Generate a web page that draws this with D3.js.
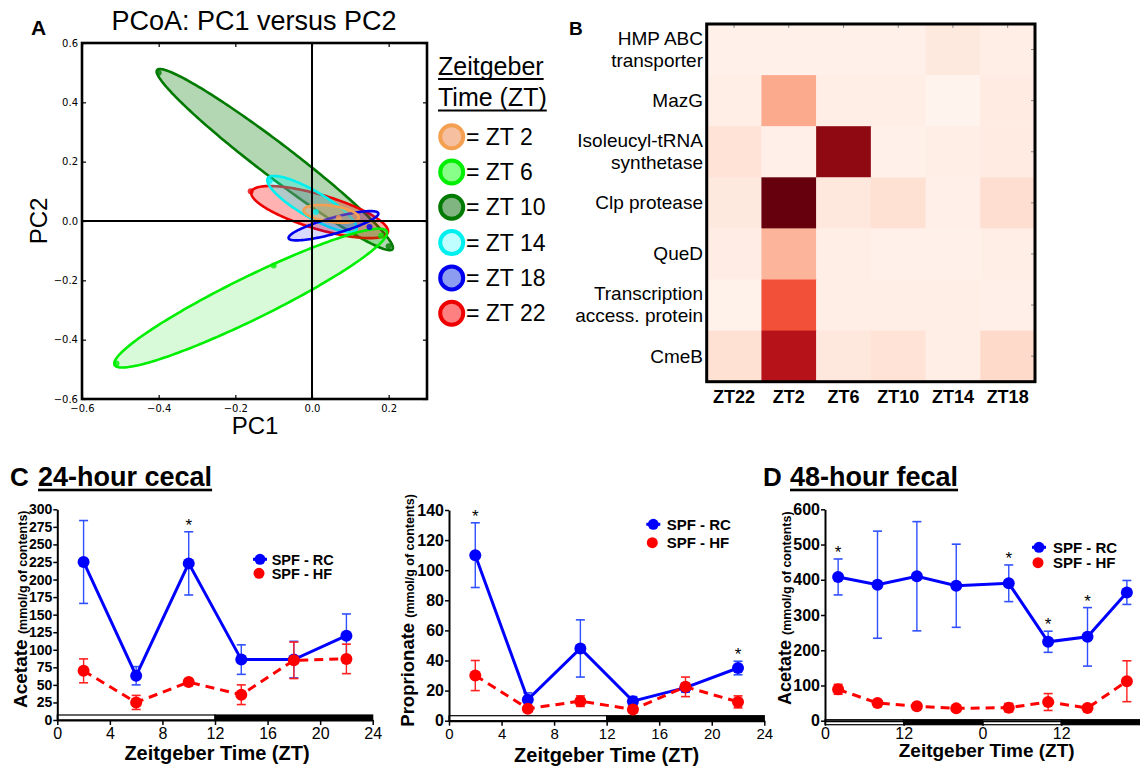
<!DOCTYPE html>
<html><head><meta charset="utf-8">
<script src="https://cdn.jsdelivr.net/npm/d3@7"></script>
<style>
body{margin:0;background:#fff}
svg{display:block}
text{font-family:"Liberation Sans",Arial,sans-serif;fill:#000}
</style></head>
<body><svg id="c" width="1140" height="771"></svg>
<script>
// ================= DATA =================
// Panel A (PCoA)
const ztGroups = ["ZT 2","ZT 6","ZT 10","ZT 14","ZT 18","ZT 22"];
const ellipseCenter = [[0.050,0.024],[-0.160,-0.260],[-0.097,0.207],[0.000,0.057],[0.056,-0.016],[0.020,0.030]];
const ellipseMajor  = [[0.072,-0.013],[0.355,0.225],[0.307,-0.302],[0.1155,-0.087],[0.117,0.042],[0.178,-0.0685]];
const ellipseMinor  = [[0.003,0.027],[0.024,-0.064],[0.026,0.045],[0.017,0.038],[0.0056,-0.026],[0.0133,0.055]];
const pcoaPointX = [-0.40,0.20,-0.51,-0.10,0.18,-0.11,0.01,-0.16,0.15,0.07];
const pcoaPointY = [0.50,-0.085,-0.48,-0.15,-0.05,0.135,0.03,0.10,-0.02,0.01];
const pcoaPointGroup = [2,2,1,1,1,3,3,5,4,0];
const pcoaXTicks = [-0.6,-0.4,-0.2,0.0,0.2];
const pcoaYTicks = [-0.6,-0.4,-0.2,0.0,0.2,0.4,0.6];

// Panel B (heatmap)
const heatRows = [["HMP ABC","transporter"],["MazG"],["Isoleucyl-tRNA","synthetase"],["Clp protease"],["QueD"],["Transcription","access. protein"],["CmeB"]];
const heatCols = ["ZT22","ZT2","ZT6","ZT10","ZT14","ZT18"];
const heatValues = [
  [0.03,0.03,0.03,0.03,0.07,0.04],
  [0.04,0.30,0.04,0.04,0.01,0.06],
  [0.10,0.035,0.92,0.03,0.04,0.06],
  [0.07,1.00,0.08,0.11,0.035,0.12],
  [0.05,0.27,0.04,0.025,0.03,0.04],
  [0.02,0.57,0.04,0.04,0.04,0.035],
  [0.11,0.82,0.08,0.10,0.04,0.14]
];

// Panel C left: 24-hour cecal acetate
const cLeftX = [2,6,10,14,18,22];
const cLeftRC = [225,63,223,86,86,120];
const cLeftRCErr = [59,13,45,21,26,31];
const cLeftHF = [70,25,54,36,85,87];
const cLeftHFErr = [17,10,2,14,26,21];
const cLeftStars = [10];
const cLeftYTicks = [0,25,50,75,100,125,150,175,200,225,250,275,300];
const cLeftXTicks = [0,4,8,12,16,20,24];
const cLeftXLabels = ["0","4","8","12","16","20","24"];

// Panel C middle: propionate
const cMidX = [2,6,10,14,18,22];
const cMidRC = [110,14,48,13,22,35];
const cMidRCErr = [21.5,4.5,19,3,3,4.5];
const cMidHF = [30,8,13,7.5,22.5,12.5];
const cMidHFErr = [10,2,3.5,2,6.5,4];
const cMidStars = [2,22];
const cMidYTicks = [0,20,40,60,80,100,120,140];
const cMidXTicks = [0,4,8,12,16,20,24];
const cMidXLabels = ["0","4","8","12","16","20","24"];

// Panel D: 48-hour fecal acetate
const dX = [2,8,14,20,28,34,40,46];
const dRC = [408,386,410,383,390,224,238,364];
const dRCErr = [51,152,155,118,52,30,83,34];
const dHF = [89,50,41,35,37,53,36,112];
const dHFErr = [14,4,4,3,12,24,3,58];
const dStars = [2,28,34,40];
const dYTicks = [0,100,200,300,400,500,600];
const dXTicks = [0,12,24,36];
const dXLabels = ["0","12","0","12"];

const seriesNames = ["SPF - RC","SPF - HF"];

// ================= STYLES =================
const ztStroke = ["#f4a052","#00ee00","#007a00","#00f0f0","#0000ee","#ee0000"];
const ztFill   = ["#f4a052","#00dd00","#007a00","#00ffff","#0000ff","#ff0000"];
const ztFillOp = [0.35,0.15,0.3,0.3,0.15,0.3];
const ztLegendFill = ["#f6c0a0","#88ff88","#80b480","#c0ffff","#8c9cf0","#ff8080"];
const ellipseOrder = [2,5,3,4,0,1];

const svg = d3.select("#c");

// ================= PANEL A =================
(function(){
  const x = d3.scaleLinear().domain([-0.6,0.3]).range([82,427]);
  const y = d3.scaleLinear().domain([-0.6,0.6]).range([399,43]);
  const g = svg.append("g");
  const tt = d3.range(0, 2*Math.PI+0.001, Math.PI/120);
  const line = d3.line().x(d=>x(d[0])).y(d=>y(d[1]));
  ellipseOrder.forEach(i=>{
    const c = ellipseCenter[i], u = ellipseMajor[i], v = ellipseMinor[i];
    const pts = tt.map(t=>[c[0]+Math.cos(t)*u[0]+Math.sin(t)*v[0], c[1]+Math.cos(t)*u[1]+Math.sin(t)*v[1]]);
    g.append("path").attr("d", line(pts)+"Z")
      .attr("fill", ztFill[i]).attr("fill-opacity", ztFillOp[i])
      .attr("stroke", ztStroke[i]).attr("stroke-width", 2.6);
  });
  g.selectAll("circle.pt").data(pcoaPointX).join("circle")
    .attr("cx",(d)=>x(d)).attr("cy",(d,i)=>y(pcoaPointY[i])).attr("r",3)
    .attr("fill",(d,i)=>ztStroke[pcoaPointGroup[i]]).attr("opacity",0.8);
  // zero lines
  g.append("line").attr("x1",x(0)).attr("x2",x(0)).attr("y1",43).attr("y2",399).attr("stroke","#000").attr("stroke-width",2);
  g.append("line").attr("x1",82).attr("x2",427).attr("y1",y(0)).attr("y2",y(0)).attr("stroke","#000").attr("stroke-width",2);
  const fmt = d3.format(".1f");
  const ax = (sel)=>{sel.select(".domain").remove(); sel.selectAll("text").style("font-family","DejaVu Sans").style("font-size","10px"); sel.selectAll("line").attr("stroke","#000").attr("stroke-width",1.2);};
  g.append("g").attr("transform","translate(0,399)").call(d3.axisBottom(x).tickValues(pcoaXTicks).tickSize(-4).tickPadding(6).tickFormat(fmt)).call(ax);
  g.append("g").attr("transform","translate(82,0)").call(d3.axisLeft(y).tickValues(pcoaYTicks).tickSize(-4).tickPadding(4).tickFormat(fmt)).call(ax);
  g.append("g").attr("transform","translate(0,43)").call(d3.axisTop(x).tickValues(pcoaXTicks).tickSize(-4).tickFormat("")).call(ax);
  g.append("g").attr("transform","translate(427,0)").call(d3.axisRight(y).tickValues(pcoaYTicks).tickSize(-4).tickFormat("")).call(ax);
  g.append("rect").attr("x",82).attr("y",43).attr("width",345).attr("height",356).attr("fill","none").attr("stroke","#000").attr("stroke-width",2.6);
  svg.append("text").attr("x",31).attr("y",35).style("font-weight","bold").style("font-size","21px").text("A");
  svg.append("text").attr("x",254).attr("y",30).attr("text-anchor","middle").style("font-size","27px").text("PCoA: PC1 versus PC2");
  svg.append("text").attr("x",255).attr("y",434).attr("text-anchor","middle").style("font-size","24px").text("PC1");
  svg.append("text").attr("transform","translate(47,221) rotate(-90)").attr("text-anchor","middle").style("font-size","24px").text("PC2");
  // legend
  const lg = svg.append("g");
  const t1 = lg.append("text").attr("x",438).attr("y",75).style("font-size","25px").text("Zeitgeber");
  const t2 = lg.append("text").attr("x",438).attr("y",106).style("font-size","25px").text("Time (ZT)");
  [[t1,79],[t2,110.5]].forEach(([t,yy])=>{
    const w = t.node().getComputedTextLength();
    lg.append("rect").attr("x",438).attr("y",yy-1).attr("width",w).attr("height",2).attr("fill","#000");
  });
  ztGroups.forEach((name,i)=>{
    const cy = 136.7 + i*35.3;
    lg.append("circle").attr("cx",451.7).attr("cy",cy).attr("r",11.5).attr("fill",ztLegendFill[i]).attr("stroke",ztStroke[i]).attr("stroke-width",4);
    lg.append("text").attr("x",466).attr("y",cy+8).style("font-size","23px").text("= "+name);
  });
})();

// ================= PANEL B =================
(function(){
  const x = d3.scaleBand().domain(heatCols).range([706.7,1035]);
  const y = d3.scaleBand().domain(heatRows.map((r,i)=>i)).range([24,381.7]);
  const color = d3.scaleSequential(d3.interpolateReds).domain([0,1]);
  const g = svg.append("g");
  heatValues.forEach((row,ri)=>{
    row.forEach((v,ci)=>{
      g.append("rect").attr("x",x(heatCols[ci])).attr("y",y(ri)).attr("width",x.bandwidth()+0.5).attr("height",y.bandwidth()+0.5).attr("fill",color(v));
    });
  });
  heatRows.forEach((r,ri)=>{
    g.append("line").attr("x1",1035).attr("x2",1031).attr("y1",y(ri)+y.bandwidth()/2).attr("y2",y(ri)+y.bandwidth()/2).attr("stroke","#888").attr("stroke-width",1);
  });
  heatCols.forEach(c=>{
    g.append("line").attr("x1",x(c)+x.bandwidth()/2).attr("x2",x(c)+x.bandwidth()/2).attr("y1",24).attr("y2",28).attr("stroke","#888").attr("stroke-width",1);
  });
  g.append("rect").attr("x",706.7).attr("y",24).attr("width",328.3).attr("height",357.7).attr("fill","none").attr("stroke","#000").attr("stroke-width",3);
  heatRows.forEach((lines,ri)=>{
    const cy = y(ri)+y.bandwidth()/2;
    if(lines.length===1){
      g.append("text").attr("x",703).attr("y",cy+6.5).attr("text-anchor","end").style("font-size","19px").text(lines[0]);
    } else {
      g.append("text").attr("x",703).attr("y",cy-5).attr("text-anchor","end").style("font-size","19px").text(lines[0]);
      g.append("text").attr("x",703).attr("y",cy+17).attr("text-anchor","end").style("font-size","19px").text(lines[1]);
    }
  });
  heatCols.forEach(c=>{
    g.append("text").attr("x",x(c)+x.bandwidth()/2).attr("y",403).attr("text-anchor","middle").style("font-weight","bold").style("font-size","18px").text(c);
  });
  svg.append("text").attr("x",569).attr("y",35).style("font-weight","bold").style("font-size","19px").text("B");
})();

// ================= LINE CHARTS =================
function lineChart(o){
  const x = d3.scaleLinear().domain(o.xDomain).range(o.xRange);
  const y = d3.scaleLinear().domain(o.yDomain).range(o.yRange);
  const g = svg.append("g");
  const y0 = y(0);
  for(let k=0;k<o.barSegments;k++){
    const a = o.xDomain[0] + k*12, b = a+12;
    g.append("rect").attr("x",x(a)).attr("y",y0-5+o.barShift).attr("width",x(Math.min(b,o.xDomain[1]))-x(a)).attr("height",5)
      .attr("fill", k%2===0 ? "#fff" : "#000").attr("stroke","#000").attr("stroke-width",1.2);
  }
  const xa = g.append("g").attr("transform",`translate(0,${y0})`)
    .call(d3.axisBottom(x).tickValues(o.xTicks).tickSize(5).tickSizeOuter(0).tickPadding(o.xPad).tickFormat((d,i)=>o.xLabels[i]));
  xa.select(".domain").attr("stroke-width",2);
  xa.selectAll("line").attr("stroke-width",1.5);
  xa.selectAll("text").style("font-size",o.xFont+"px").style("font-family","Liberation Sans, Arial");
  const ya = g.append("g").attr("transform",`translate(${o.xRange[0]},0)`)
    .call(d3.axisLeft(y).tickValues(o.yTicks).tickSize(4).tickSizeOuter(0).tickPadding(1));
  ya.select(".domain").attr("stroke-width",2);
  ya.selectAll("line").attr("stroke-width",1.5);
  ya.selectAll("text").style("font-size",o.yFont+"px").style("font-weight","bold").style("font-family","Liberation Sans, Arial");

  const series = [
    {v:o.rc, e:o.rcErr, color:"#0000ff", err:"#3050ff", dash:null},
    {v:o.hf, e:o.hfErr, color:"#ff0000", err:"#ff2020", dash:"9,6"}
  ];
  series.forEach(s=>{
    o.xs.forEach((xv,i)=>{
      const px = x(xv), t = y(s.v[i]+s.e[i]), b = y(Math.max(0,s.v[i]-s.e[i]));
      g.append("line").attr("x1",px).attr("x2",px).attr("y1",t).attr("y2",b).attr("stroke",s.err).attr("stroke-width",1.4);
      [t,b].forEach(yy=>g.append("line").attr("x1",px-4.5).attr("x2",px+4.5).attr("y1",yy).attr("y2",yy).attr("stroke",s.err).attr("stroke-width",1.6));
    });
    g.append("path").attr("d", d3.line().x((d,i)=>x(o.xs[i])).y(d=>y(d))(s.v))
      .attr("fill","none").attr("stroke",s.color).attr("stroke-width",3).attr("stroke-dasharray",s.dash);
    g.selectAll(null).data(s.v).join("circle").attr("cx",(d,i)=>x(o.xs[i])).attr("cy",d=>y(d)).attr("r",6).attr("fill",s.color);
  });
  o.stars.forEach(xv=>{
    const i = o.xs.indexOf(xv);
    const top = Math.max(o.rc[i]+o.rcErr[i], o.hf[i]+o.hfErr[i]);
    g.append("text").attr("x",x(xv)).attr("y",y(top)-1).attr("text-anchor","middle").style("font-size","17px").text("*");
  });
  const L = o.legend;
  g.append("line").attr("x1",L.x-7).attr("x2",L.x+7).attr("y1",L.y).attr("y2",L.y).attr("stroke","#0000ff").attr("stroke-width",3);
  g.append("circle").attr("cx",L.x).attr("cy",L.y).attr("r",5.5).attr("fill","#0000ff");
  g.append("circle").attr("cx",L.x-1).attr("cy",L.y+L.dy).attr("r",5.5).attr("fill","#ff0000");
  seriesNames.forEach((n,k)=>{
    g.append("text").attr("x",L.tx).attr("y",L.y+k*L.dy+5.2).style("font-weight","bold").style("font-size",L.font+"px").text(n);
  });
  g.append("text").attr("x",o.xTitle[0]).attr("y",o.xTitle[1]).attr("text-anchor","middle").style("font-weight","bold").style("font-size",o.xTitle[2]+"px").text("Zeitgeber Time (ZT)");
  const yt = g.append("text").attr("transform",`translate(${o.yTitle[0]},${o.yTitle[1]}) rotate(-90)`).style("font-weight","bold");
  yt.append("tspan").style("font-size",o.yTitle[2]+"px").text(o.yName+" ");
  yt.append("tspan").style("font-size","12.5px").text("(mmol/g of contents)");
}

lineChart({xDomain:[0,24], xRange:[57.3,372.7], yDomain:[0,300], yRange:[720,509.3],
  xTicks:cLeftXTicks, xLabels:cLeftXLabels, yTicks:cLeftYTicks, xs:cLeftX,
  rc:cLeftRC, rcErr:cLeftRCErr, hf:cLeftHF, hfErr:cLeftHFErr, stars:cLeftStars,
  barSegments:2, barShift:0, xPad:3, xFont:16, yFont:14,
  legend:{x:260,y:559.3,dy:14,tx:271.7,font:14.5}, xTitle:[217,760,20], yTitle:[27,708,19], yName:"Acetate"});

lineChart({xDomain:[0,24], xRange:[449,764.3], yDomain:[0,140], yRange:[720.7,510],
  xTicks:cMidXTicks, xLabels:cMidXLabels, yTicks:cMidYTicks, xs:cMidX,
  rc:cMidRC, rcErr:cMidRCErr, hf:cMidHF, hfErr:cMidHFErr, stars:cMidStars,
  barSegments:2, barShift:0, xPad:3, xFont:15, yFont:16,
  legend:{x:653.3,y:524.3,dy:18.4,tx:666.7,font:15}, xTitle:[606.7,762,20], yTitle:[413.5,726.7,18.5], yName:"Proprionate"});

lineChart({xDomain:[0,48], xRange:[825,1140], yDomain:[0,600], yRange:[720.7,509.3],
  xTicks:dXTicks, xLabels:dXLabels, yTicks:dYTicks, xs:dX,
  rc:dRC, rcErr:dRCErr, hf:dHF, hfErr:dHFErr, stars:dStars,
  barSegments:4, barShift:4, xPad:2, xFont:16, yFont:16,
  legend:{x:1039,y:547.3,dy:15.4,tx:1053,font:15}, xTitle:[986.7,757,19], yTitle:[790.5,705,18], yName:"Acetate"});

function panelTitle(letter, lx, title, tx, base){
  svg.append("text").attr("x",lx).attr("y",base).style("font-weight","bold").style("font-size","26px").text(letter);
  const t = svg.append("text").attr("x",tx).attr("y",base).style("font-weight","bold").style("font-size","27px").text(title);
  const w = t.node().getComputedTextLength();
  svg.append("rect").attr("x",tx).attr("y",base+3).attr("width",w).attr("height",2.6).attr("fill","#000");
}
panelTitle("C",10,"24-hour cecal",38,485.7);
panelTitle("D",763,"48-hour fecal",790,485.7);
</script></body></html>
